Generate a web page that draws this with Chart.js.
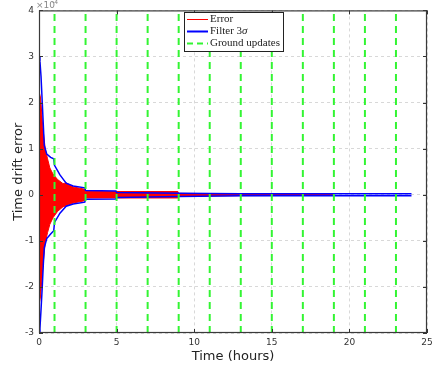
<!DOCTYPE html>
<html>
<head>
<meta charset="utf-8">
<script src="https://cdn.jsdelivr.net/npm/chart.js@4.4.1/dist/chart.umd.min.js"></script>
<style>
    html, body { margin: 0; padding: 0; background: #fff; }
    #wrap { width: 433px; height: 366px; }
</style>
</head>
<body>
<div id="wrap"><canvas id="drift-chart"></canvas></div>
<script>
    "use strict";

    // time drift error, values in units of 1e-4
    const errTime  = [0, 0.1, 0.25, 0.4, 0.55, 0.7, 0.9, 1.2, 1.55, 1.75, 2.2, 2.95, 3.0, 5.0, 8.95, 9.0, 13, 17, 19];
    const errUpper = [2.25, 2.1, 1.45, 1.0, 0.78, 0.58, 0.45, 0.33, 0.24, 0.26, 0.17, 0.12, 0.07, 0.07, 0.07, 0.03, 0.02, 0.015, 0.01];
    const errLower = [-2.4, -2.2, -1.55, -1.05, -0.82, -0.64, -0.5, -0.36, -0.26, -0.24, -0.18, -0.13, -0.07, -0.07, -0.07, -0.03, -0.02, -0.015, -0.01];

    // filter 3-sigma bound
    const sigmaTime  = [0, 0.06, 0.13, 0.21, 0.28, 0.34, 0.5, 0.75, 0.95, 1.0, 1.35, 1.75, 2.2, 2.95, 3.0, 4.95, 5.0, 9, 13, 24];
    const sigmaUpper = [3.0, 2.9, 2.57, 2.0, 1.5, 1.07, 0.88, 0.81, 0.78, 0.64, 0.43, 0.25, 0.19, 0.15, 0.09, 0.08, 0.05, 0.035, 0.02, 0.02];
    const sigmaLower = [-3.0, -2.9, -2.5, -2.0, -1.5, -1.15, -0.95, -0.85, -0.78, -0.6, -0.4, -0.25, -0.2, -0.16, -0.1, -0.09, -0.06, -0.04, -0.02, -0.02];

    // ground update times (hours)
    const groundUpdates = [1, 3, 5, 7, 9, 11, 13, 15, 17, 19, 21, 23];

    const xTicks = [0, 5, 10, 15, 20, 25];
    const yTicks = [-3, -2, -1, 0, 1, 2, 3, 4];

    const RED = '#ff0000';
    const BLUE = '#0000ff';
    const GREEN = '#33f533';

    const pts = (xs, ys) => xs.map((x, i) => ({x: x, y: ys[i]}));

    let datasets = [
        {
            label: 'Error',
            data: pts(errTime, errUpper),
            borderColor: RED,
            backgroundColor: RED,
            borderWidth: 1,
            fill: '+1',
            order: 3
        },
        {
            label: '_errLow',
            data: pts(errTime, errLower),
            borderColor: RED,
            borderWidth: 1,
            fill: false,
            order: 3
        },
        {
            label: 'Filter 3σ',
            data: pts(sigmaTime, sigmaUpper),
            borderColor: BLUE,
            borderWidth: 1.5,
            fill: false,
            order: 2
        },
        {
            label: '_sigmaLow',
            data: pts(sigmaTime, sigmaLower),
            borderColor: BLUE,
            borderWidth: 1.5,
            fill: false,
            order: 2
        }
    ];

    groundUpdates.forEach(function(t, i) {
        datasets.push({
            label: i === 0 ? 'Ground updates' : '_ground',
            data: [{x: t, y: -3}, {x: t, y: 4}],
            borderColor: GREEN,
            borderWidth: 2,
            borderDash: [7, 5],
            fill: false,
            order: 1
        });
    });

    // box, inward ticks, exponent label and legend
    const decorations = {
        id: 'decorations',
        afterDraw(chart) {
            const ctx = chart.ctx;
            const a = chart.chartArea;
            const xs = chart.scales.x, ys = chart.scales.y;
            ctx.save();
            ctx.strokeStyle = '#333';
            ctx.lineWidth = 1;
            ctx.beginPath();
            xTicks.forEach(function(v) {
                const px = Math.round(xs.getPixelForValue(v)) + 0.5;
                ctx.moveTo(px, a.bottom); ctx.lineTo(px, a.bottom - 4);
                ctx.moveTo(px, a.top); ctx.lineTo(px, a.top + 4);
            });
            yTicks.forEach(function(v) {
                const py = Math.round(ys.getPixelForValue(v)) + 0.5;
                ctx.moveTo(a.left, py); ctx.lineTo(a.left + 4, py);
                ctx.moveTo(a.right, py); ctx.lineTo(a.right - 4, py);
            });
            ctx.stroke();
            ctx.strokeStyle = '#3a3a3a';
            ctx.lineWidth = 1.2;
            ctx.strokeRect(a.left + 0.5, a.top + 0.5, a.right - a.left - 1, a.bottom - a.top - 1);

            // exponent, mostly cut off by the top edge
            ctx.fillStyle = '#888';
            ctx.font = '9px "DejaVu Sans"';
            ctx.textBaseline = 'alphabetic';
            ctx.fillText('\u00d710', a.left - 3, a.top - 2);
            ctx.font = '6px "DejaVu Sans"';
            ctx.fillText('-4', a.left + 13, a.top - 6);

            // legend
            const lx = 184, ly = 12, lw = 99, lh = 39;
            ctx.fillStyle = '#fff';
            ctx.fillRect(lx, ly, lw, lh);
            ctx.strokeStyle = '#222';
            ctx.lineWidth = 1;
            ctx.strokeRect(lx + 0.5, ly + 0.5, lw, lh);
            const rows = [
                {color: RED, width: 1, dash: [], text: 'Error'},
                {color: BLUE, width: 2, dash: [], text: 'Filter 3', italic: '\u03c3'},
                {color: GREEN, width: 2, dash: [6, 4], text: 'Ground updates'}
            ];
            ctx.textBaseline = 'middle';
            rows.forEach(function(r, i) {
                const y = ly + 7.5 + i * 12;
                ctx.beginPath();
                ctx.strokeStyle = r.color;
                ctx.lineWidth = r.width;
                ctx.setLineDash(r.dash);
                ctx.moveTo(lx + 3, y);
                ctx.lineTo(lx + 24, y);
                ctx.stroke();
                ctx.setLineDash([]);
                ctx.fillStyle = '#222';
                ctx.font = '11px "Liberation Serif"';
                ctx.fillText(r.text, lx + 26, y);
                if (r.italic) {
                    const w = ctx.measureText(r.text).width;
                    ctx.font = 'italic 11px "Liberation Serif"';
                    ctx.fillText(r.italic, lx + 26 + w, y);
                }
            });
            ctx.restore();
        }
    };

    new Chart(document.getElementById('drift-chart'), {
        type: 'line',
        data: { datasets: datasets },
        plugins: [decorations],
        options: {
            responsive: true,
            maintainAspectRatio: false,
            animation: false,
            layout: { padding: { top: 7, right: 6, left: 0, bottom: 0 } },
            elements: {
                point: { radius: 0 },
                line: { tension: 0 }
            },
            plugins: {
                legend: { display: false },
                tooltip: { enabled: false }
            },
            scales: {
                x: {
                    type: 'linear',
                    min: 0,
                    max: 25,
                    afterFit: function(scale) {
                        scale.height = 33;
                        scale.paddingLeft = 0;
                        scale.paddingRight = 0;
                    },
                    afterBuildTicks: function(scale) { scale.ticks = xTicks.map(v => ({value: v})); },
                    grid: { color: '#d8d8d8', drawTicks: false },
                    border: { display: false, dash: [3, 3] },
                    ticks: { color: '#333', padding: 4, font: { family: 'DejaVu Sans', size: 9 } },
                    title: {
                        display: true,
                        text: 'Time (hours)',
                        color: '#222',
                        padding: { top: 0, bottom: 2 },
                        font: { family: 'DejaVu Sans', size: 13 }
                    }
                },
                y: {
                    type: 'linear',
                    min: -3,
                    max: 4,
                    afterFit: function(scale) { scale.width = 39; },
                    afterBuildTicks: function(scale) { scale.ticks = yTicks.map(v => ({value: v})); },
                    grid: { color: '#d8d8d8', drawTicks: false },
                    border: { display: false, dash: [3, 3] },
                    ticks: { color: '#333', padding: 5, font: { family: 'DejaVu Sans', size: 9 } },
                    title: {
                        display: true,
                        text: 'Time drift error',
                        color: '#222',
                        padding: { top: 11, bottom: 0 },
                        font: { family: 'DejaVu Sans', size: 13 }
                    }
                }
            }
        }
    });
</script>
</body>
</html>
